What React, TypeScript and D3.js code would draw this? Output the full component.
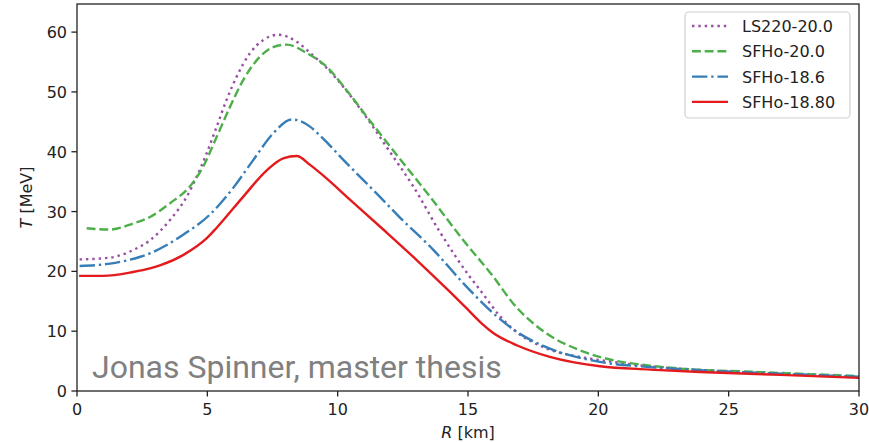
import React from "react";
import * as d3 from "d3";

const xTicks = [0, 5, 10, 15, 20, 25, 30];
const yTicks = [0, 10, 20, 30, 40, 50, 60];

const lsR = [0.1, 1.27, 2.17, 2.8, 3.57, 4.21, 4.59, 4.97, 5.36, 5.74, 6.13, 6.64, 7.15, 7.72, 8.43, 9.0, 9.58, 10.34, 11.11, 12.0, 12.9, 13.92, 15.07, 15.46, 16.23, 16.74, 18.02, 19.3, 20.57, 22, 24, 27, 30];
const lsT = [22.0, 22.3, 23.6, 25.2, 28.6, 32.5, 35.8, 39.7, 44.2, 48.7, 52.6, 56.5, 58.7, 59.55, 58.4, 56.3, 54.0, 50.2, 45.7, 40.0, 34.2, 26.6, 19.1, 16.9, 12.5, 10.3, 7.1, 5.7, 4.86, 4.1, 3.5, 2.85, 2.3];

const sf20R = [0.37, 1.27, 2.15, 2.8, 3.57, 4.33, 4.84, 5.36, 5.87, 6.38, 7.02, 7.53, 8.04, 8.81, 9.58, 10.34, 11.11, 12.26, 13.54, 14.82, 15.97, 16.74, 18.02, 19.3, 20.57, 21.85, 23.13, 26, 30];
const sf20T = [27.2, 27.0, 28.0, 29.1, 31.4, 34.2, 37.5, 42.5, 47.5, 52.0, 55.9, 57.5, 57.9, 56.5, 54.2, 50.3, 45.9, 39.5, 32.5, 25.2, 19.1, 14.6, 9.6, 6.8, 5.14, 4.3, 3.75, 3.2, 2.5];

const sf186R = [0.1, 1.27, 2.4, 2.8, 3.44, 4.1, 5.1, 6.0, 6.76, 7.53, 8.24, 8.94, 9.32, 10.34, 11.5, 12.39, 13.67, 14.95, 15.97, 16.87, 18.14, 20.06, 21.98, 23.9, 27, 30];
const sf186T = [20.9, 21.3, 22.4, 23.0, 24.4, 26.2, 29.5, 34.0, 38.6, 43.1, 45.4, 44.2, 42.7, 38.1, 33.0, 29.0, 23.6, 17.4, 13.0, 9.9, 7.1, 4.86, 4.0, 3.47, 2.9, 2.4];

const sf188R = [0.08, 1.0, 2.15, 2.8, 3.18, 4.1, 4.97, 5.36, 6.38, 7.28, 7.91, 8.43, 8.94, 9.45, 10.47, 11.75, 13.03, 14.3, 14.95, 15.5, 15.97, 16.87, 18.14, 20.06, 21.98, 23.9, 27, 30];
const sf188T = [19.25, 19.25, 19.9, 20.5, 21.0, 22.8, 25.5, 27.3, 32.5, 36.9, 38.9, 39.3, 37.8, 36.0, 32.0, 27.0, 21.9, 16.6, 13.8, 11.4, 9.7, 7.65, 5.7, 4.13, 3.58, 3.18, 2.7, 2.2];

const seriesNames = ["LS220-20.0", "SFHo-20.0", "SFHo-18.6", "SFHo-18.80"];
const seriesColors = ["#984ea3", "#4daf4a", "#377eb8", "#e41a1c"];
const seriesR = [lsR, sf20R, sf186R, sf188R];
const seriesT = [lsT, sf20T, sf186T, sf188T];

const LW = 2.4;
const dashes = [
  `${LW * 1} ${LW * 1.65}`,
  `${LW * 3.7} ${LW * 1.6}`,
  `${LW * 6.4} ${LW * 1.6} ${LW * 1} ${LW * 1.6}`,
  "none",
];

const W = 869;
const H = 443;
const left = 77;
const right = 859;
const top = 4;
const bottom = 391;

export default function App() {
  const x = d3.scaleLinear().domain([0, 30]).range([left, right]);
  const y = d3.scaleLinear().domain([0, 64.7]).range([bottom, top]);
  const line = d3
    .line<[number, number]>()
    .x((d) => x(d[0]))
    .y((d) => y(d[1]))
    .curve(d3.curveMonotoneX);

  const font = "'DejaVu Sans', sans-serif";
  const fs = 16;
  const axisColor = "#222";

  return (
    <div style={{ position: "fixed", left: 0, top: 0 }}>
      <svg width={W} height={H} style={{ display: "block", background: "#fff" }}>
        <defs>
          <clipPath id="plotclip">
            <rect x={left} y={top} width={right - left} height={bottom - top} />
          </clipPath>
        </defs>
        <g clipPath="url(#plotclip)">
          {seriesNames.map((name, i) => {
            const pts: [number, number][] = seriesR[i].map((r, j) => [r, seriesT[i][j]]);
            return (
              <path
                key={name}
                d={line(pts) || ""}
                fill="none"
                stroke={seriesColors[i]}
                strokeWidth={LW}
                strokeDasharray={dashes[i]}
                strokeLinecap="butt"
                strokeLinejoin="round"
              />
            );
          })}
        </g>
        <text
          x={92}
          y={378}
          fontFamily="Roboto, sans-serif"
          fontSize={32}
          fill="#808080"
        >
          Jonas Spinner, master thesis
        </text>
        <rect
          x={left}
          y={top}
          width={right - left}
          height={bottom - top}
          fill="none"
          stroke={axisColor}
          strokeWidth={1.3}
        />
        {xTicks.map((t) => (
          <g key={"x" + t}>
            <line x1={x(t)} x2={x(t)} y1={bottom} y2={bottom + 5.6} stroke={axisColor} strokeWidth={1.3} />
            <text x={x(t)} y={bottom + 24} textAnchor="middle" fontFamily={font} fontSize={fs} fill="#222">
              {t}
            </text>
          </g>
        ))}
        {yTicks.map((t) => (
          <g key={"y" + t}>
            <line x1={left - 5.6} x2={left} y1={y(t)} y2={y(t)} stroke={axisColor} strokeWidth={1.3} />
            <text x={left - 10} y={y(t) + 6} textAnchor="end" fontFamily={font} fontSize={fs} fill="#222">
              {t}
            </text>
          </g>
        ))}
        <text x={(left + right) / 2} y={438} textAnchor="middle" fontFamily={font} fontSize={fs} fill="#222">
          <tspan fontStyle="italic">R</tspan> [km]
        </text>
        <text
          transform={`translate(32, ${(top + bottom) / 2}) rotate(-90)`}
          textAnchor="middle"
          fontFamily={font}
          fontSize={fs}
          fill="#222"
        >
          <tspan fontStyle="italic">T</tspan> [MeV]
        </text>
        <rect x={685} y={12} width={165} height={106} rx={4} fill="#fff" fillOpacity={0.8} stroke="#d0d0d0" strokeWidth={1.2} />
        {seriesNames.map((name, i) => {
          const ly = 26 + i * 25.3;
          return (
            <g key={"lg" + name}>
              <line
                x1={692}
                x2={728}
                y1={ly}
                y2={ly}
                stroke={seriesColors[i]}
                strokeWidth={LW}
                strokeDasharray={dashes[i]}
              />
              <text x={742} y={ly + 6} fontFamily={font} fontSize={fs} fill="#222">
                {name}
              </text>
            </g>
          );
        })}
      </svg>
    </div>
  );
}
